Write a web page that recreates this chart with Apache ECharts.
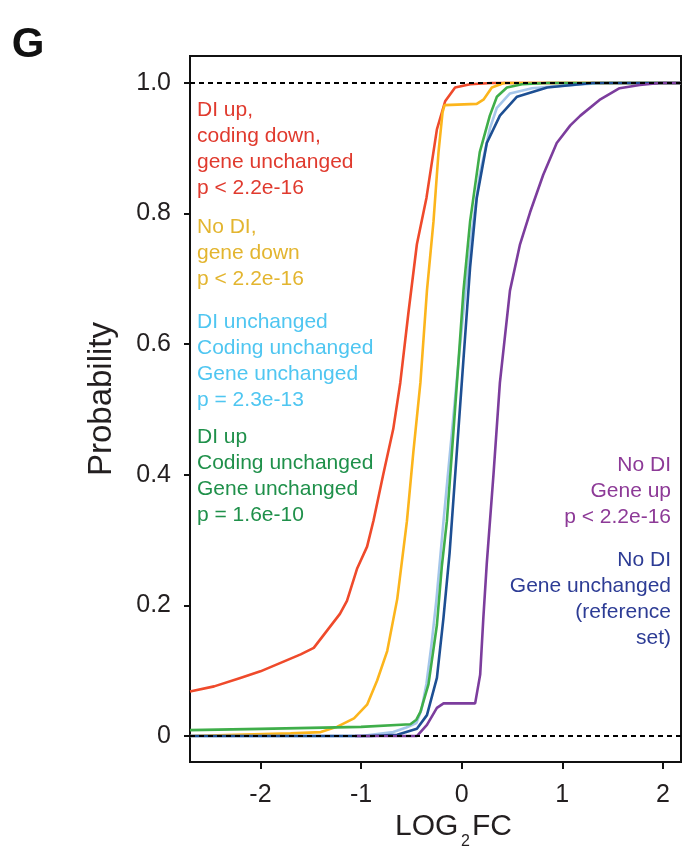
<!DOCTYPE html>
<html>
<head>
<meta charset="UTF-8">
<title>Cumulative distribution LOG2FC</title>
<script src="https://cdn.jsdelivr.net/npm/echarts@6/dist/echarts.min.js"></script>
<style>
  html, body { margin: 0; padding: 0; background: #fff; }
  #chart { width: 683px; height: 849px; }
</style>
</head>
<body>
<div id="chart"></div>
<script>
// axis ticks
const xTicks = [-2, -1, 0, 1, 2];
const yTicks = [0, 0.2, 0.4, 0.6, 0.8, 1.0];
const refLines = [0, 1];

// DI up, coding down, gene unchanged
const redX = [-2.7, -2.46, -2.2, -2.0, -1.8, -1.6, -1.47, -1.34, -1.21, -1.14, -1.04, -0.94, -0.876, -0.78, -0.68, -0.61, -0.53, -0.445, -0.35, -0.246, -0.164, -0.065, 0.084, 0.3, 2.18];
const redY = [0.068, 0.076, 0.089, 0.099, 0.112, 0.125, 0.135, 0.161, 0.187, 0.207, 0.256, 0.29, 0.33, 0.40, 0.47, 0.541, 0.647, 0.753, 0.824, 0.929, 0.972, 0.993, 0.998, 1.0, 1.0];

// No DI, gene down
const yellowX = [-2.7, -1.7, -1.4, -1.24, -1.07, -0.94, -0.84, -0.74, -0.64, -0.544, -0.48, -0.41, -0.345, -0.28, -0.23, -0.19, -0.17, 0.15, 0.22, 0.3, 0.42, 2.18];
const yellowY = [0, 0.004, 0.006, 0.014, 0.027, 0.048, 0.085, 0.13, 0.21, 0.329, 0.435, 0.541, 0.682, 0.788, 0.894, 0.955, 0.966, 0.968, 0.975, 0.993, 1.0, 1.0];

// DI unchanged, coding unchanged, gene unchanged
const lightX = [-2.7, -1.0, -0.68, -0.55, -0.45, -0.4, -0.35, -0.3, -0.25, -0.18, -0.1, -0.03, 0.03, 0.1, 0.18, 0.28, 0.35, 0.48, 0.7, 1.0, 1.4, 2.18];
const lightY = [0, 0, 0.006, 0.013, 0.02, 0.04, 0.08, 0.14, 0.21, 0.33, 0.46, 0.575, 0.67, 0.77, 0.86, 0.93, 0.962, 0.984, 0.992, 0.996, 1.0, 1.0];

// DI up, coding unchanged, gene unchanged
const greenX = [-2.7, -2.0, -1.0, -0.51, -0.45, -0.41, -0.33, -0.246, -0.197, -0.147, -0.08, -0.03, 0.018, 0.084, 0.18, 0.28, 0.35, 0.45, 0.6, 0.85, 2.18];
const greenY = [0.009, 0.011, 0.014, 0.018, 0.025, 0.037, 0.079, 0.17, 0.26, 0.329, 0.47, 0.577, 0.682, 0.788, 0.894, 0.95, 0.979, 0.993, 0.998, 1.0, 1.0];

// No DI, gene unchanged (reference set)
const navyX = [-2.7, -0.9, -0.64, -0.445, -0.345, -0.246, -0.18, -0.12, -0.048, 0.018, 0.084, 0.15, 0.25, 0.38, 0.55, 0.85, 1.3, 2.18];
const navyY = [0, 0, 0.002, 0.011, 0.032, 0.089, 0.182, 0.28, 0.435, 0.577, 0.718, 0.824, 0.908, 0.95, 0.979, 0.993, 1.0, 1.0];

// No DI, gene up
const purpleX = [-1.06, -0.445, -0.345, -0.246, -0.18, 0.134, 0.184, 0.216, 0.25, 0.316, 0.38, 0.48, 0.58, 0.68, 0.81, 0.945, 1.08, 1.18, 1.37, 1.57, 1.77, 1.97, 2.18];
const purpleY = [0, 0, 0.017, 0.043, 0.05, 0.05, 0.094, 0.182, 0.265, 0.40, 0.541, 0.682, 0.753, 0.802, 0.859, 0.908, 0.935, 0.95, 0.974, 0.992, 0.997, 1.0, 1.0];

// annotation texts
const redText = ['DI up,', 'coding down,', 'gene unchanged', 'p < 2.2e-16'];
const yellowText = ['No DI,', 'gene down', 'p < 2.2e-16'];
const lightText = ['DI unchanged', 'Coding unchanged', 'Gene unchanged', 'p = 2.3e-13'];
const greenText = ['DI up', 'Coding unchanged', 'Gene unchanged', 'p = 1.6e-10'];
const purpleText = ['No DI', 'Gene up', 'p < 2.2e-16'];
const navyText = ['No DI', 'Gene unchanged', '(reference', 'set)'];

const FONT = 'Arial, "Liberation Sans", sans-serif';

function zip(xs, ys) {
    return xs.map((x, i) => [x, ys[i]]);
}

function curve(name, xs, ys, color) {
    return {
        name: name,
        type: 'line',
        data: zip(xs, ys),
        showSymbol: false,
        smooth: false,
        lineStyle: { color: color, width: 2.6 },
        itemStyle: { color: color }
    };
}

function note(lines, x, y, color, align) {
    return {
        type: 'text',
        x: x,
        y: y,
        style: {
            text: lines.join('\n'),
            fill: color,
            font: '21px ' + FONT,
            lineHeight: 26,
            align: align || 'left',
            verticalAlign: 'top'
        }
    };
}

const chart = echarts.init(document.getElementById('chart'));

const series = [
    curve('red', redX, redY, '#ef4a2b'),
    curve('yellow', yellowX, yellowY, '#fcb51c'),
    curve('light', lightX, lightY, '#a5c6ea'),
    curve('green', greenX, greenY, '#3fae4a'),
    curve('navy', navyX, navyY, '#1d4f93'),
    curve('purple', purpleX, purpleY, '#7c3d9d')
];
series[series.length - 1].markLine = {
    silent: true,
    symbol: ['none', 'none'],
    label: { show: false },
    lineStyle: { type: [5, 4], color: '#000', width: 2 },
    data: refLines.map(v => ({ yAxis: v }))
};

chart.setOption({
    animation: false,
    backgroundColor: '#fff',
    grid: {
        left: 190, right: 2, top: 56, bottom: 87,
        show: true, borderColor: '#111', borderWidth: 2
    },
    xAxis: {
        type: 'value',
        min: -2.7,
        max: 2.18,
        splitLine: { show: false },
        axisLine: { show: true, onZero: false, lineStyle: { color: '#111', width: 2 } },
        axisTick: { show: true, customValues: xTicks, length: 7, lineStyle: { color: '#111', width: 2 } },
        axisLabel: {
            customValues: xTicks,
            color: '#231f20', fontSize: 25, fontFamily: FONT, margin: 21
        }
    },
    yAxis: {
        type: 'value',
        min: -0.0398,
        max: 1.0413,
        splitLine: { show: false },
        axisLine: { show: true, onZero: false, lineStyle: { color: '#111', width: 2 } },
        axisTick: { show: true, customValues: yTicks, length: 6, lineStyle: { color: '#111', width: 2 } },
        axisLabel: {
            customValues: yTicks,
            color: '#231f20', fontSize: 25, fontFamily: FONT, margin: 19,
            formatter: v => (v === 0 ? '0' : v.toFixed(1))
        }
    },
    series: series,
    graphic: [
        { type: 'text', x: 28, y: 45, style: { text: 'G', fill: '#111', font: 'bold 42px ' + FONT, align: 'center', verticalAlign: 'middle' } },
        { type: 'text', x: 102, y: 399, rotation: Math.PI / 2, style: { text: 'Probability', fill: '#231f20', font: '33px ' + FONT, align: 'center', verticalAlign: 'middle' } },
        { type: 'text', x: 395, y: 827, style: { text: 'LOG', fill: '#231f20', font: '30px ' + FONT, align: 'left', verticalAlign: 'middle' } },
        { type: 'text', x: 461, y: 842, style: { text: '2', fill: '#231f20', font: '16px ' + FONT, align: 'left', verticalAlign: 'middle' } },
        { type: 'text', x: 472, y: 827, style: { text: 'FC', fill: '#231f20', font: '30px ' + FONT, align: 'left', verticalAlign: 'middle' } },
        note(redText, 197, 97, '#e03a2e'),
        note(yellowText, 197, 214, '#e3b52f'),
        note(lightText, 197, 309, '#4fc6f1'),
        note(greenText, 197, 424, '#1f904a'),
        note(purpleText, 671, 452, '#8d3a97', 'right'),
        note(navyText, 671, 547, '#2d3c95', 'right')
    ]
});
</script>
</body>
</html>
